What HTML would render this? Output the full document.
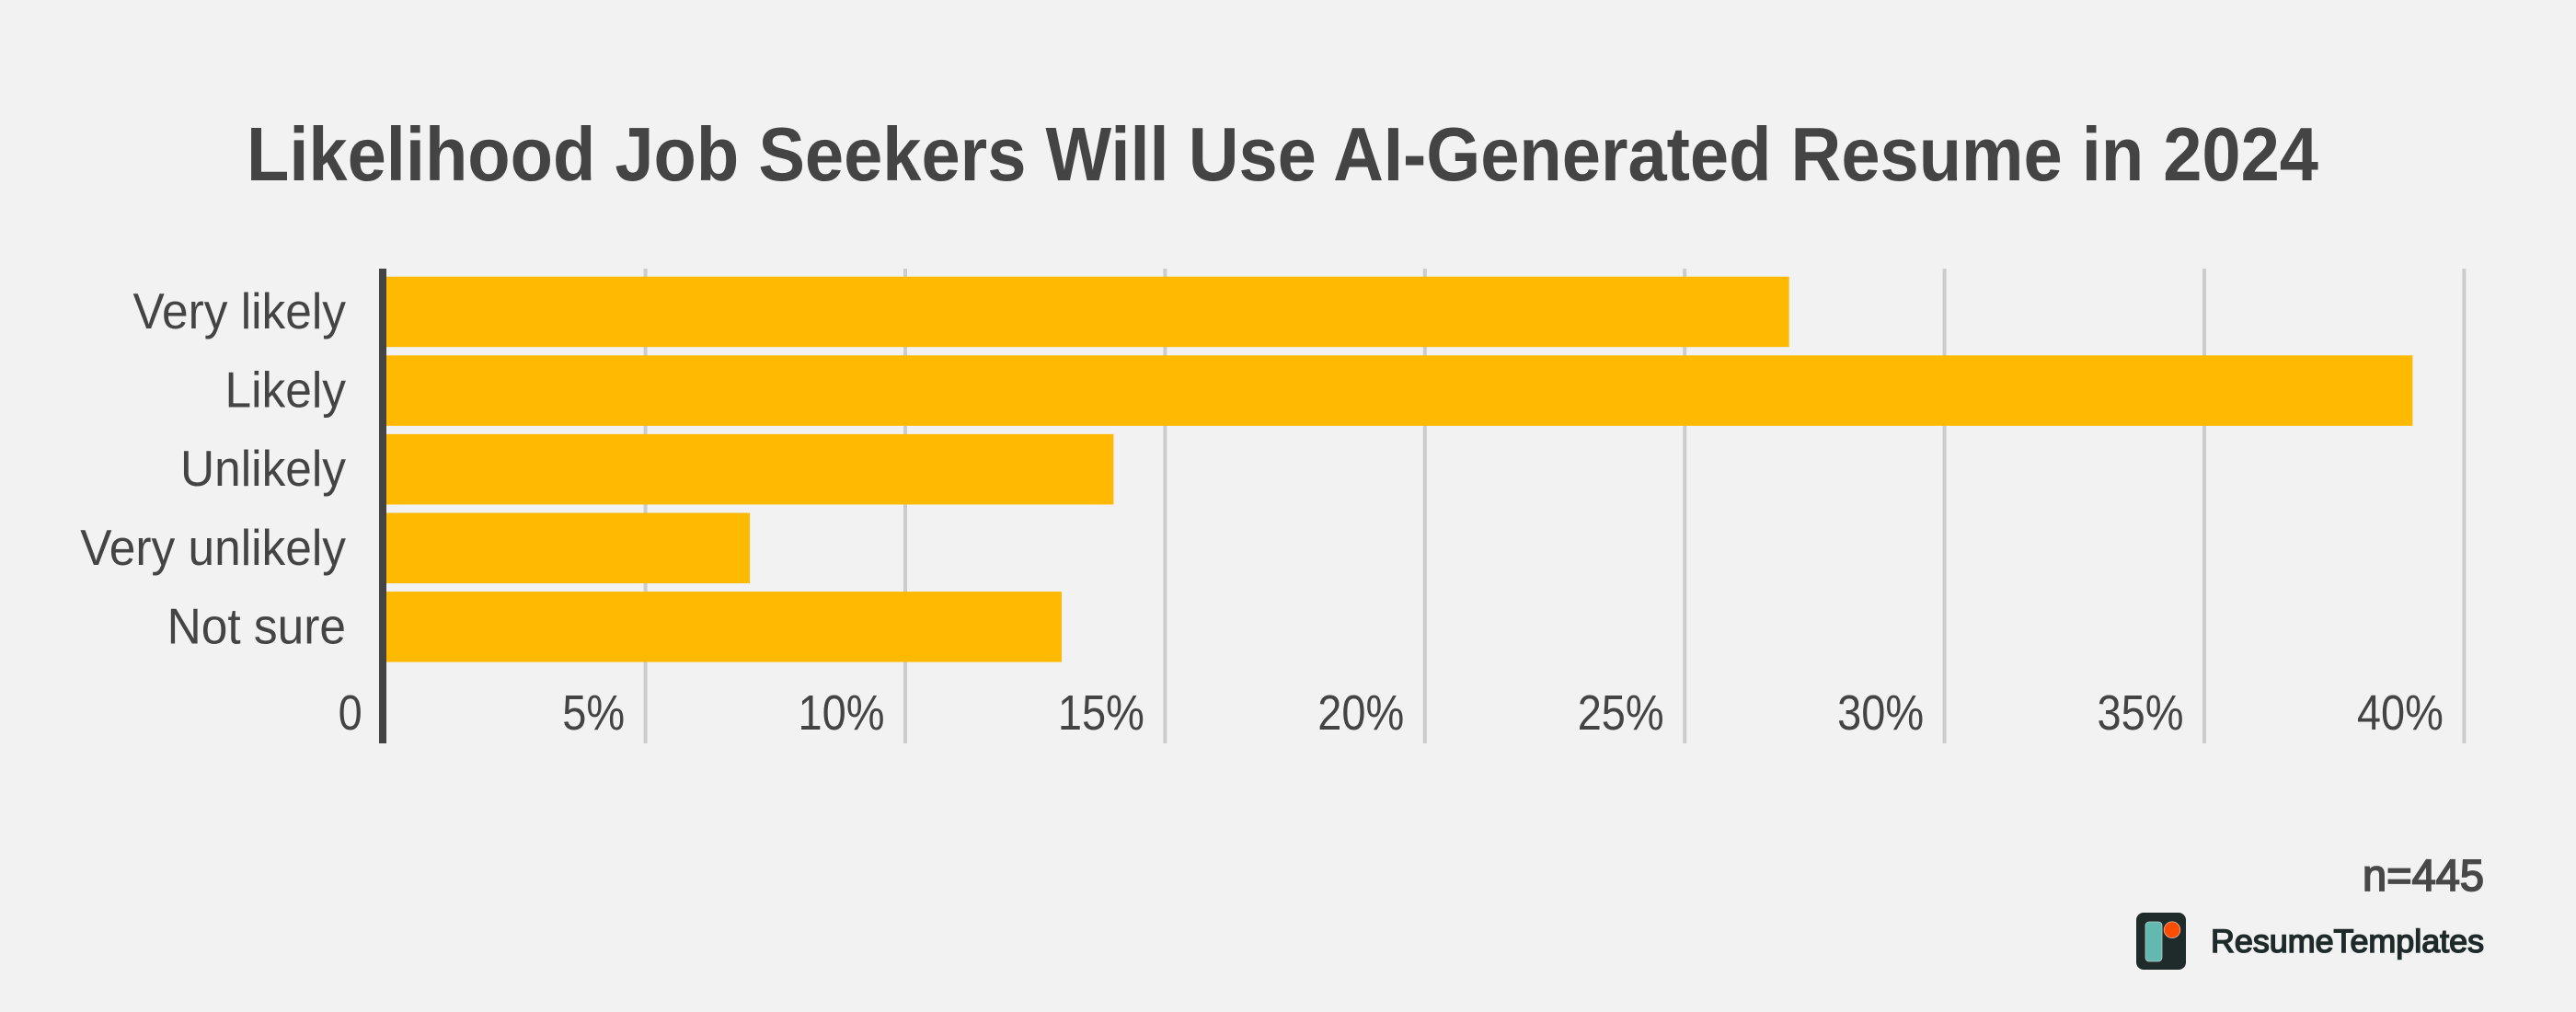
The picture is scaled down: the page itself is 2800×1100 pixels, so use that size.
<!DOCTYPE html>
<html lang="en">
<head>
<meta charset="utf-8">
<title>Likelihood Job Seekers Will Use AI-Generated Resume in 2024</title>
<style>
html,body{margin:0;padding:0;background:#f2f2f2;}
svg{display:block;}
text{font-family:"Liberation Sans",sans-serif;fill:#444444;}
</style>
</head>
<body>
<svg id="chart" width="2800" height="1100" viewBox="0 0 2800 1100" xmlns="http://www.w3.org/2000/svg">
  <rect x="0" y="0" width="2800" height="1100" fill="#f2f2f2"/>
  <text x="268" y="196" font-size="83" font-weight="700" textLength="2252" lengthAdjust="spacingAndGlyphs">Likelihood Job Seekers Will Use AI-Generated Resume in 2024</text>
  <g id="grid"></g>
  <g id="bars"></g>
  <rect x="412" y="292" width="8" height="516" fill="#444444"/>
  <g id="ylabels"></g>
  <g id="xlabels"></g>
  <text x="2568" y="968" font-size="48" textLength="132" lengthAdjust="spacingAndGlyphs" stroke="#484848" stroke-width="1.8" style="fill:#484848">n=445</text>
  <g>
    <rect x="2322" y="992" width="54" height="62" rx="8" fill="#1f2a2a"/>
    <rect x="2332" y="1002" width="18" height="43" rx="4" fill="#63b8af" stroke="#b9cfcb" stroke-width="0.8"/>
    <circle cx="2361" cy="1010.7" r="8.8" fill="#fc4d02" stroke="#e8b8a0" stroke-width="0.8"/>
    <text x="2403" y="1035" font-size="35" textLength="297" lengthAdjust="spacingAndGlyphs" stroke="#1f2a2a" stroke-width="1.5" style="fill:#1f2a2a">ResumeTemplates</text>
  </g>
</svg>
<script>
const categories = ['Very likely', 'Likely', 'Unlikely', 'Very unlikely', 'Not sure'];
const shares = [27, 39, 14, 7, 13];
const tickValues = [0, 5, 10, 15, 20, 25, 30, 35, 40];
const tickLabels = ['0', '5%', '10%', '15%', '20%', '25%', '30%', '35%', '40%'];

const NS = 'http://www.w3.org/2000/svg';
const PLOT_LEFT = 419.7;
const PX_PER_UNIT = 56.48;
const BAND_TOP = 300.7;
const BAND_STEP = 85.6;
const BAR_HEIGHT = 76.5;
const Y_LABEL_SQUEEZE = 0.935;
const X_LABEL_SQUEEZE = 0.87;

function xScale(v) { return PLOT_LEFT + v * PX_PER_UNIT; }
function yScale(i) { return BAND_TOP + i * BAND_STEP; }
function slug(s) { return s.toLowerCase().replace(/[^a-z0-9]+/g, '-').replace(/^-|-$/g, ''); }
function squeeze(el, factor) {
  el.setAttribute('textLength', (el.getComputedTextLength() * factor).toFixed(1));
  el.setAttribute('lengthAdjust', 'spacingAndGlyphs');
}

const gridGroup = document.getElementById('grid');
const barGroup = document.getElementById('bars');
const yLabelGroup = document.getElementById('ylabels');
const xLabelGroup = document.getElementById('xlabels');

tickValues.forEach(function (v, i) {
  if (v > 0) {
    const line = document.createElementNS(NS, 'rect');
    
    
    line.setAttribute('x', xScale(v) - 2.5);
    line.setAttribute('y', 292);
    line.setAttribute('width', 4);
    line.setAttribute('height', 516);
    line.setAttribute('fill', '#cccccc');
    gridGroup.appendChild(line);
  }
  const label = document.createElementNS(NS, 'text');
  
  
  label.setAttribute('x', xScale(v) - (v === 0 ? 26 : 23));
  label.setAttribute('y', 793);
  label.setAttribute('font-size', 54);
  label.setAttribute('text-anchor', 'end');
  label.textContent = tickLabels[i];
  xLabelGroup.appendChild(label);
  squeeze(label, X_LABEL_SQUEEZE);
});

categories.forEach(function (name, i) {
  const bar = document.createElementNS(NS, 'rect');
  
  
  bar.setAttribute('x', xScale(0));
  bar.setAttribute('y', yScale(i));
  bar.setAttribute('width', xScale(shares[i]) - xScale(0));
  bar.setAttribute('height', BAR_HEIGHT);
  bar.setAttribute('fill', '#ffb900');
  barGroup.appendChild(bar);

  const label = document.createElementNS(NS, 'text');
  
  
  label.setAttribute('x', 376);
  label.setAttribute('y', yScale(i) + 56.3);
  label.setAttribute('font-size', 55);
  label.setAttribute('text-anchor', 'end');
  label.textContent = name;
  yLabelGroup.appendChild(label);
  squeeze(label, Y_LABEL_SQUEEZE);
});
</script>
</body>
</html>
